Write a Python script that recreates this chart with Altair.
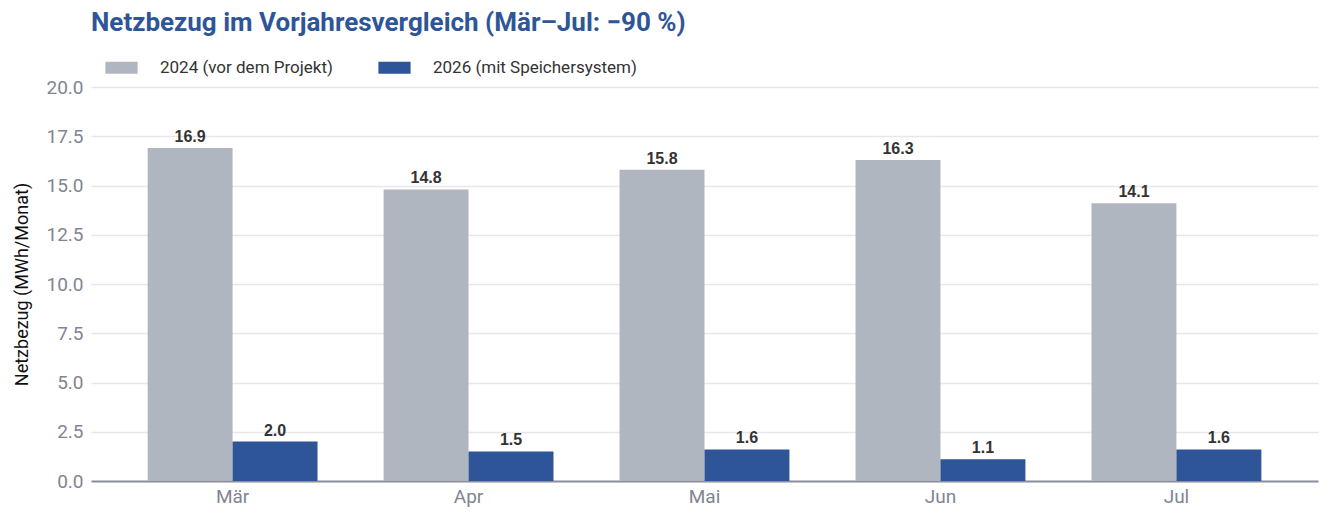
import altair as alt
import pandas as pd

MONTHS = ["Mär", "Apr", "Mai", "Jun", "Jul"]
SERIES = ["2024 (vor dem Projekt)", "2026 (mit Speichersystem)"]
VALUES_2024 = [16.9, 14.8, 15.8, 16.3, 14.1]
VALUES_2026 = [2.0, 1.5, 1.6, 1.1, 1.6]
COLORS = ["#B0B6BF", "#2E5597"]

FONT = "Roboto, sans-serif"


def build_df() -> pd.DataFrame:
    rows = []
    for m, a, b in zip(MONTHS, VALUES_2024, VALUES_2026):
        rows.append({"Monat": m, "Serie": SERIES[0], "Wert": a})
        rows.append({"Monat": m, "Serie": SERIES[1], "Wert": b})
    return pd.DataFrame(rows)


df = build_df()

base = alt.Chart(df).encode(
    x=alt.X(
        "Monat:N",
        sort=MONTHS,
        title=None,
        scale=alt.Scale(paddingInner=0.28, paddingOuter=0.24),
        axis=alt.Axis(
            labelAngle=0, labelFont=FONT, labelFontSize=19, labelColor="#7F8591",
            labelPadding=6, ticks=False, domainColor="#8A8F99", domainWidth=2,
        ),
    ),
    xOffset=alt.XOffset("Serie:N", sort=SERIES, scale=alt.Scale(paddingInner=0)),
    y=alt.Y(
        "Wert:Q",
        title="Netzbezug (MWh/Monat)",
        scale=alt.Scale(domain=[0, 20]),
        axis=alt.Axis(
            values=[0, 2.5, 5, 7.5, 10, 12.5, 15, 17.5, 20], format=".1f",
            labelFont=FONT, labelFontSize=19, labelColor="#7F8591", labelPadding=8,
            ticks=False, domain=False, gridColor="#E6E6EB", gridWidth=1.5,
            titleFont=FONT, titleFontSize=18, titleFontWeight="normal",
            titleColor="#111111", titlePadding=14,
        ),
    ),
)

bars = base.mark_bar().encode(
    color=alt.Color(
        "Serie:N", sort=SERIES,
        scale=alt.Scale(domain=SERIES, range=COLORS),
        legend=alt.Legend(
            title=None, orient="none", direction="horizontal", legendX=17, legendY=-33,
            symbolType="M-1.2,-0.45H1.2V0.45H-1.2Z", symbolSize=720, symbolStrokeWidth=0,
            labelFont=FONT, labelFontSize=17, labelColor="#333333", labelLimit=0,
            columnPadding=45, labelOffset=25,
        ),
    )
)

labels = base.mark_text(
    dy=-11, font="Liberation Sans", fontSize=16, fontWeight="bold", color="#333333"
).encode(text=alt.Text("Wert:Q", format=".1f"))

chart = (
    (bars + labels)
    .properties(
        width=1227, height=394,
        autosize=alt.AutoSizeParams(type="none"),
        padding={"left": 83, "top": 79, "right": 6, "bottom": 33},
        title=alt.Title(
            "Netzbezug im Vorjahresvergleich (Mär–Jul: −90 %)",
            anchor="start", frame="group", font=FONT, fontSize=26, fontWeight="bold",
            color="#2E5597", offset=18,
        ),
    )
    .configure_view(stroke=None)
)

chart.save("out.html", embed_options={"renderer": "svg", "actions": False})
